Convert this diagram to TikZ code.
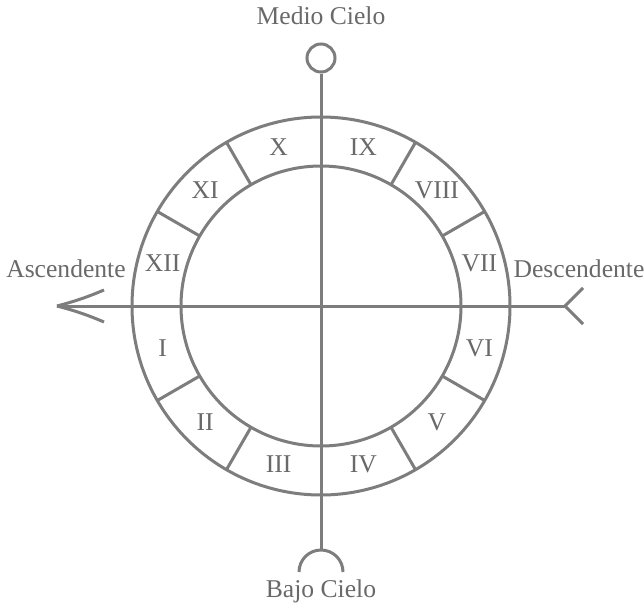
\documentclass[tikz,border=0pt]{standalone}
\usepackage{fontspec}
\setmainfont{Liberation Serif}
\definecolor{ink}{RGB}{125,125,125}
\definecolor{txt}{RGB}{105,105,105}
\tikzset{
  wheel/.style={draw=ink,line width=1.5pt},
  lbl/.style={inner sep=0pt,outer sep=0pt,text=txt,font=\fontsize{12.8}{15}\selectfont},
}
\begin{document}
\begin{tikzpicture}[x=.5pt,y=-.5pt]
\path[use as bounding box] (0,0) rectangle (644,605);
\path[fill=white,draw=none] (0,0) rectangle (644,605);
\coordinate (c) at (321,306);
% ring of houses
\draw[wheel] (c) circle[radius=189];
\draw[wheel] (c) circle[radius=140];
\foreach \a in {30,60,120,150,210,240,300,330}
  \draw[wheel] ([shift={(\a:140)}]c) -- ([shift={(\a:189)}]c);
\foreach \n/\a in {X/105,IX/75,VIII/45,VII/15,VI/-15,V/-45,IV/-75,III/-105,II/-135,I/-165,XII/165,XI/135}
  \node[lbl] (h\n) at ([shift={(-\a:164)}]c) {\n};
% meridian
\node[lbl,anchor=base] (mctext) at (321,25) {Medio Cielo};
\node[circle,draw=ink,line width=1.5pt,minimum size=14pt,inner sep=0pt] (mc) at (321,58) {};
\coordinate (bc) at (321,550);
\draw[wheel] (mc.south) -- (bc);
\draw[wheel] ([xshift=-11pt]bc |- 0,572) arc[start angle=180,end angle=360,radius=22];
\node[lbl,anchor=base] (bctext) at (321,597) {Bajo Cielo};
% horizon
\node[lbl,anchor=base] (asctext) at (66,277) {Ascendente};
\node[lbl,anchor=base] (desctext) at (579,277) {Descendente};
\coordinate (asc) at (57,306);
\coordinate (desc) at (565,306);
\draw[wheel] (asc) -- (desc);
\draw[wheel] (asc) to[bend right=4] +(47,-16);
\draw[wheel] (asc) to[bend left=4] +(47,16);
\draw[wheel] (desc) -- +(18,-18);
\draw[wheel] (desc) -- +(18,18);
\end{tikzpicture}
\end{document}
